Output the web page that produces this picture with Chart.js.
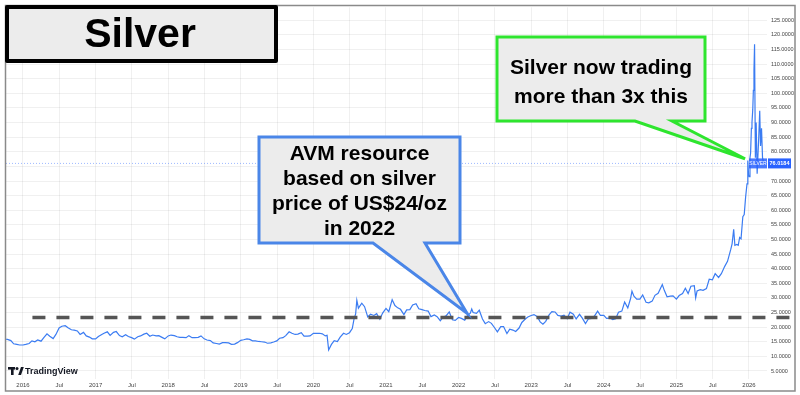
<!DOCTYPE html>
<html>
<head>
<meta charset="utf-8">
<title>Silver</title>
<script src="https://cdn.jsdelivr.net/npm/chart.js@4.4.1/dist/chart.umd.min.js"></script>
<style>
  html, body { margin: 0; padding: 0; background: #fff; }
  #wrap { width: 800px; height: 395px; position: relative; }
</style>
</head>
<body>
<div id="wrap"><canvas id="silverChart"></canvas></div>
<script>
// Silver futures price (US$/oz)
const priceDates = [
  '2015-10-01','2015-10-15','2015-11-01','2015-11-15','2015-12-01','2015-12-15',
  '2016-01-01','2016-01-15','2016-02-01','2016-02-15','2016-03-01','2016-03-15','2016-04-01','2016-04-15','2016-05-01','2016-05-15','2016-06-01','2016-06-15',
  '2016-07-01','2016-07-15','2016-08-01','2016-08-15','2016-09-01','2016-09-15','2016-10-01','2016-10-15','2016-11-01','2016-11-15','2016-12-01','2016-12-15',
  '2017-01-01','2017-01-15','2017-02-01','2017-02-15','2017-03-01','2017-03-15','2017-04-01','2017-04-15','2017-05-01','2017-05-15','2017-06-01','2017-06-15',
  '2017-07-01','2017-07-15','2017-08-01','2017-08-15','2017-09-01','2017-09-15','2017-10-01','2017-10-15','2017-11-01','2017-11-15','2017-12-01','2017-12-15',
  '2018-01-01','2018-01-15','2018-02-01','2018-02-15','2018-03-01','2018-03-15','2018-04-01','2018-04-15','2018-05-01','2018-05-15','2018-06-01','2018-06-15',
  '2018-07-01','2018-07-15','2018-08-01','2018-08-15','2018-09-01','2018-09-15','2018-10-01','2018-10-15','2018-11-01','2018-11-15','2018-12-01','2018-12-15',
  '2019-01-01','2019-01-15','2019-02-01','2019-02-15','2019-03-01','2019-03-15','2019-04-01','2019-04-15','2019-05-01','2019-05-15','2019-06-01','2019-06-15',
  '2019-07-01','2019-07-15','2019-08-01','2019-08-15','2019-09-01','2019-09-15','2019-10-01','2019-10-15','2019-11-01','2019-11-15','2019-12-01','2019-12-15',
  '2020-01-01','2020-01-15','2020-02-01','2020-02-15','2020-03-01','2020-03-10','2020-03-18','2020-04-01','2020-04-15','2020-05-01','2020-05-15','2020-06-01','2020-06-15',
  '2020-07-01','2020-07-15','2020-07-24','2020-08-01','2020-08-07','2020-08-15','2020-09-01','2020-09-15','2020-10-01','2020-10-15','2020-11-01','2020-11-15','2020-12-01','2020-12-15',
  '2021-01-01','2021-01-15','2021-02-01','2021-02-15','2021-03-01','2021-03-15','2021-04-01','2021-04-15','2021-05-01','2021-05-15','2021-06-01','2021-06-15',
  '2021-07-01','2021-07-15','2021-08-01','2021-08-15','2021-09-01','2021-09-15','2021-10-01','2021-10-15','2021-11-01','2021-11-15','2021-12-01','2021-12-15',
  '2022-01-01','2022-01-15','2022-02-01','2022-02-15','2022-03-01','2022-03-08','2022-03-15','2022-04-01','2022-04-15','2022-05-01','2022-05-15','2022-06-01','2022-06-15',
  '2022-07-01','2022-07-15','2022-08-01','2022-08-15','2022-09-01','2022-09-15','2022-10-01','2022-10-15','2022-11-01','2022-11-15','2022-12-01','2022-12-15',
  '2023-01-01','2023-01-15','2023-02-01','2023-02-15','2023-03-01','2023-03-15','2023-04-01','2023-04-15','2023-05-01','2023-05-15','2023-06-01','2023-06-15',
  '2023-07-01','2023-07-15','2023-08-01','2023-08-15','2023-09-01','2023-09-15','2023-10-01','2023-10-15','2023-11-01','2023-11-15','2023-12-01','2023-12-15',
  '2024-01-01','2024-01-15','2024-02-01','2024-02-15','2024-03-01','2024-03-15','2024-04-01','2024-04-15','2024-05-01','2024-05-15','2024-05-22','2024-06-01','2024-06-15',
  '2024-07-01','2024-07-15','2024-08-01','2024-08-15','2024-09-01','2024-09-15','2024-10-01','2024-10-22','2024-11-01','2024-11-15','2024-12-01','2024-12-15',
  '2025-01-01','2025-01-15','2025-02-01','2025-02-15','2025-03-01','2025-03-15','2025-04-01','2025-04-08','2025-04-15','2025-05-01','2025-05-15','2025-06-01','2025-06-15',
  '2025-07-01','2025-07-15','2025-08-01','2025-08-15','2025-09-01','2025-09-15','2025-10-01','2025-10-08','2025-10-16','2025-10-22','2025-11-01','2025-11-08','2025-11-15','2025-11-22',
  '2025-12-01','2025-12-08','2025-12-15','2025-12-22','2025-12-26','2025-12-30',
  '2026-01-02','2026-01-06','2026-01-09','2026-01-13','2026-01-16','2026-01-20','2026-01-23','2026-01-26','2026-01-29',
  '2026-02-02','2026-02-06','2026-02-11','2026-02-19','2026-02-24','2026-02-28','2026-03-05','2026-03-10','2026-03-16'
];
const priceValues = [
  15.9, 15.8, 15.4, 14.3, 14.1, 13.9,
  13.9, 14.1, 14.4, 15.3, 15.0, 15.6, 15.2, 16.4, 17.7, 16.9, 16.1, 17.5,
  19.7, 20.3, 20.5, 19.8, 19.1, 19.0, 18.7, 17.5, 18.2, 17.0, 16.6, 16.0,
  16.0, 16.8, 17.5, 18.0, 18.4, 17.2, 18.2, 18.5, 17.1, 16.7, 17.4, 16.8,
  16.4, 15.9, 16.7, 17.0, 17.6, 17.9, 16.9, 17.3, 17.0, 17.1, 16.5, 16.0,
  17.0, 17.3, 17.1, 16.7, 16.5, 16.5, 16.4, 17.1, 16.4, 16.4, 16.5, 17.0,
  16.0, 15.6, 15.4, 14.6, 14.4, 14.2, 14.7, 14.7, 14.6, 14.1, 14.2, 14.7,
  15.5, 15.7, 16.0, 15.8, 15.3, 15.3, 15.1, 15.0, 14.9, 14.5, 14.6, 14.9,
  15.3, 16.2, 16.4, 17.1, 18.4, 17.9, 17.5, 17.6, 18.1, 16.9, 16.9, 17.0,
  17.9, 17.9, 17.9, 17.7, 17.0, 17.2, 12.2, 14.1, 15.4, 15.1, 16.6, 17.9, 17.5,
  18.1, 19.5, 22.8, 24.5, 29.2, 26.5, 28.2, 27.0, 23.5, 24.4, 24.0, 24.6, 22.7, 24.8,
  26.4, 25.3, 29.4, 27.4, 26.6, 26.1, 24.3, 25.9, 26.0, 27.6, 28.0, 26.3,
  26.0, 25.7, 25.5, 23.6, 24.2, 23.6, 22.2, 23.4, 24.0, 25.2, 22.5, 22.3,
  23.3, 23.0, 22.4, 24.0, 24.8, 26.2, 25.0, 24.7, 25.8, 22.8, 21.2, 21.9, 21.3,
  19.8, 18.4, 20.2, 20.2, 17.8, 19.3, 19.0, 18.5, 19.7, 21.6, 22.7, 23.5,
  24.0, 24.3, 23.6, 21.8, 21.0, 22.0, 24.2, 25.3, 25.2, 24.0, 23.8, 24.1,
  22.9, 25.1, 24.4, 22.8, 24.4, 23.1, 21.2, 22.8, 23.0, 23.8, 25.5, 24.0,
  24.0, 23.0, 23.1, 22.6, 22.9, 25.1, 25.5, 28.6, 26.6, 29.8, 32.3, 30.6, 29.6,
  29.6, 31.0, 28.5, 28.3, 28.9, 30.9, 31.6, 34.6, 32.6, 30.4, 30.6, 30.7,
  29.6, 30.8, 31.5, 33.3, 31.5, 34.0, 34.2, 30.0, 32.4, 32.8, 32.6, 33.2, 36.4,
  36.2, 38.3, 37.0, 38.3, 40.8, 42.5, 46.5, 48.5, 53.5, 48.0, 48.3, 48.0, 50.7, 50.2,
  57.8, 58.5, 64.5, 69.0, 77.0, 72.0,
  71.5, 78.0, 79.5, 88.0, 90.0, 94.5, 101.0, 108.0, 116.8,
  78.0, 90.0, 72.5, 85.0, 94.0, 82.0, 88.0, 78.0, 76.0184
];
const lastPrice = 76.0184;

// dashed level: resource price used by AVM
const resourceLevel = 23.3;
const resourceFrom = 2016.13;
const resourceTo = 2026.63;

// axis ticks
const yTicks = [5, 10, 15, 20, 25, 30, 35, 40, 45, 50, 55, 60, 65, 70, 75, 80, 85, 90, 95, 100, 105, 110, 115, 120, 125];
const xTickValues = [2016, 2016.5, 2017, 2017.5, 2018, 2018.5, 2019, 2019.5, 2020, 2020.5, 2021,
  2021.5, 2022, 2022.5, 2023, 2023.5, 2024, 2024.5, 2025, 2025.5, 2026];
const xTickLabels = ['2016', 'Jul', '2017', 'Jul', '2018', 'Jul', '2019', 'Jul', '2020', 'Jul', '2021',
  'Jul', '2022', 'Jul', '2023', 'Jul', '2024', 'Jul', '2025', 'Jul', '2026'];

function toYear(s) {
  const [y, m, d] = s.split('-').map(Number);
  const start = Date.UTC(y, 0, 1);
  const len = Date.UTC(y + 1, 0, 1) - start;
  return y + (Date.UTC(y, m - 1, d) - start) / len;
}

const silverPoints = priceDates.map((d, i) => ({ x: toYear(d), y: priceValues[i] }));
const xMin = 2015.766, xMax = 2026.248;

const BOLD = '"Liberation Sans", Arial, sans-serif';

function callout(ctx, box, baseL, baseR, tip, color, lines, firstBase, step) {
  ctx.save();
  ctx.beginPath();
  ctx.moveTo(box.l, box.t);
  ctx.lineTo(box.r, box.t);
  ctx.lineTo(box.r, box.b);
  ctx.lineTo(baseR, box.b);
  ctx.lineTo(tip.x, tip.y);
  ctx.lineTo(baseL, box.b);
  ctx.lineTo(box.l, box.b);
  ctx.closePath();
  ctx.fillStyle = '#ececec';
  ctx.fill();
  ctx.lineWidth = 3;
  ctx.lineJoin = 'miter';
  ctx.strokeStyle = color;
  ctx.stroke();
  ctx.fillStyle = '#000';
  ctx.font = 'bold 21px ' + BOLD;
  ctx.textAlign = 'center';
  ctx.textBaseline = 'alphabetic';
  const cx = (box.l + box.r) / 2;
  lines.forEach((t, i) => ctx.fillText(t, cx, firstBase + i * step));
  ctx.restore();
}

const overlay = {
  id: 'overlay',
  afterDraw(chart) {
    const ctx = chart.ctx;
    const xs = chart.scales.x, ys = chart.scales.y;

    // last price tags on the price axis
    const py = ys.getPixelForValue(lastPrice);
    ctx.save();
    ctx.fillStyle = 'rgba(41,98,255,0.85)';
    ctx.fillRect(749, py - 5, 18, 10);
    ctx.fillStyle = '#2962ff';
    ctx.fillRect(768, py - 5, 23, 10);
    ctx.fillStyle = '#fff';
    ctx.font = '5px ' + BOLD;
    ctx.textAlign = 'center';
    ctx.textBaseline = 'middle';
    ctx.fillText('SILVER', 758, py + 0.5);
    ctx.font = 'bold 5.5px ' + BOLD;
    ctx.fillText(lastPrice.toFixed(4), 779.5, py + 0.5);
    ctx.restore();

    // outer frame
    ctx.save();
    ctx.strokeStyle = '#8a8a8a';
    ctx.lineWidth = 1.5;
    ctx.strokeRect(5.5, 5.5, 789.5, 385.5);
    ctx.restore();

    // title box
    ctx.save();
    ctx.fillStyle = '#ececec';
    ctx.fillRect(7, 7, 269, 54);
    ctx.lineWidth = 4;
    ctx.strokeStyle = '#000';
    ctx.lineJoin = 'round';
    ctx.strokeRect(7, 7, 269, 54);
    ctx.fillStyle = '#000';
    ctx.font = 'bold 41px ' + BOLD;
    ctx.textAlign = 'center';
    ctx.textBaseline = 'alphabetic';
    ctx.fillText('Silver', 140, 47);
    ctx.restore();

    // callouts, tips placed on data coordinates
    callout(ctx, { l: 259, t: 137, r: 460, b: 243 }, 373, 425,
      { x: xs.getPixelForValue(2022.116), y: ys.getPixelForValue(24.76) }, '#4a86e8',
      ['AVM resource', 'based on silver', 'price of US$24/oz', 'in 2022'], 159.5, 25);
    callout(ctx, { l: 497, t: 37, r: 705, b: 121 }, 635, 672,
      { x: xs.getPixelForValue(2025.945), y: ys.getPixelForValue(77.6) }, '#2ee52e',
      ['Silver now trading', 'more than 3x this'], 74, 29);

    // TradingView watermark
    ctx.save();
    ctx.fillStyle = '#131722';
    ctx.fillRect(8, 367, 7, 2.6);
    ctx.fillRect(11, 367, 2.6, 8);
    ctx.beginPath();
    ctx.arc(17, 368.4, 1.5, 0, Math.PI * 2);
    ctx.fill();
    ctx.beginPath();
    ctx.moveTo(18.2, 375);
    ctx.lineTo(21, 375);
    ctx.lineTo(23.8, 367);
    ctx.lineTo(21, 367);
    ctx.closePath();
    ctx.fill();
    ctx.font = 'bold 9px ' + BOLD;
    ctx.textBaseline = 'middle';
    ctx.fillText('TradingView', 25, 371.5);
    ctx.restore();
  }
};

new Chart(document.getElementById('silverChart'), {
  type: 'line',
  data: {
    datasets: [{
      label: 'Resource price',
      data: [{ x: resourceFrom, y: resourceLevel }, { x: resourceTo, y: resourceLevel }],
      borderColor: '#555555',
      borderWidth: 3.5,
      borderDash: [13, 11],
      pointRadius: 0,
      clip: false,
      order: 0
    }, {
      label: 'Silver',
      data: silverPoints,
      borderColor: '#3b7cf2',
      borderWidth: 1.2,
      pointRadius: 0,
      tension: 0,
      order: 1
    }, {
      label: 'Last price',
      data: [{ x: xMin, y: lastPrice }, { x: 2026.21, y: lastPrice }],
      borderColor: 'rgba(41,98,255,0.45)',
      borderWidth: 1,
      borderDash: [1, 2],
      pointRadius: 0,
      order: 2
    }]
  },
  options: {
    responsive: true,
    maintainAspectRatio: false,
    animation: false,
    events: [],
    layout: { padding: { left: 6, top: 6, right: 5, bottom: 0 } },
    plugins: { legend: { display: false }, tooltip: { enabled: false } },
    scales: {
      x: {
        type: 'linear',
        position: 'bottom',
        min: xMin,
        max: xMax,
        grid: { color: 'rgba(0,0,0,0.06)', drawTicks: false },
        border: { display: false },
        afterBuildTicks: s => { s.ticks = xTickValues.map(v => ({ value: v })); },
        afterFit: s => { s.height = 16; },
        ticks: {
          autoSkip: false,
          maxRotation: 0,
          padding: 3,
          color: '#444',
          font: { size: 6, family: BOLD },
          callback: (v, i) => xTickLabels[i]
        }
      },
      y: {
        type: 'linear',
        position: 'right',
        min: 2.26,
        max: 129.43,
        grid: { color: 'rgba(0,0,0,0.06)', drawTicks: false },
        border: { display: false },
        afterBuildTicks: s => { s.ticks = yTicks.map(v => ({ value: v })); },
        afterFit: s => { s.width = 28; },
        ticks: {
          padding: 4,
          color: '#444',
          font: { size: 5.5, family: BOLD },
          callback: v => Number(v).toFixed(4)
        }
      }
    }
  },
  plugins: [overlay]
});
</script>
</body>
</html>
